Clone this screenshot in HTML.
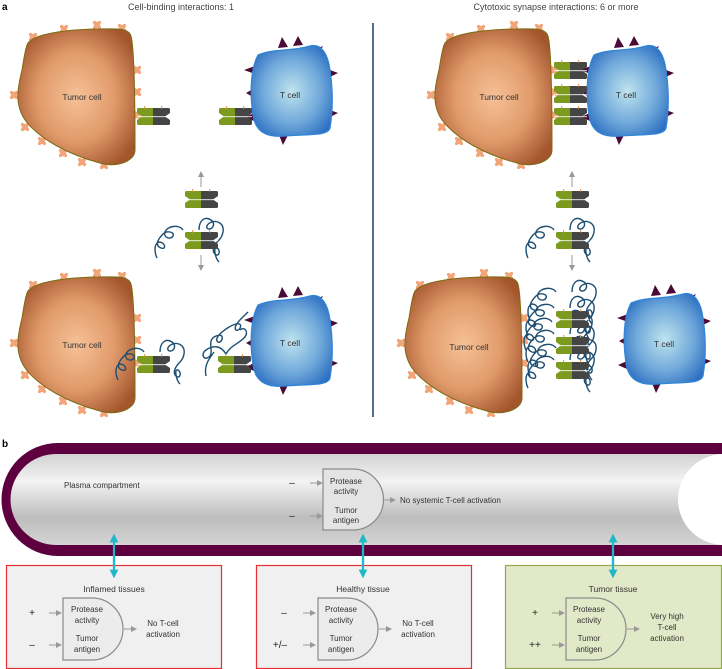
<!DOCTYPE html>
<html><head><meta charset="utf-8"><style>
html,body{margin:0;padding:0;background:#fff;}
svg{display:block;font-family:"Liberation Sans",sans-serif;}
</style></head><body>
<svg width="722" height="669" viewBox="0 0 722 669" xmlns="http://www.w3.org/2000/svg">
<defs>
<radialGradient id="tg" cx="0.5" cy="0.5" r="0.6">
<stop offset="0" stop-color="#f6c196"/><stop offset="0.55" stop-color="#e09a6a"/><stop offset="1" stop-color="#a3552c"/>
</radialGradient>
<radialGradient id="bg" cx="0.5" cy="0.5" r="0.6">
<stop offset="0" stop-color="#bfe3ef"/><stop offset="0.6" stop-color="#6fa8da"/><stop offset="1" stop-color="#2d6fc2"/>
</radialGradient>
<linearGradient id="pg" x1="0" y1="0" x2="0" y2="1">
<stop offset="0" stop-color="#d2d2d2"/><stop offset="0.3" stop-color="#f3f3f3"/><stop offset="0.7" stop-color="#bdbdbd"/><stop offset="1" stop-color="#d4d4d4"/>
</linearGradient>
<g id="bump"><circle r="3.2"/><circle cx="-2.5" cy="-2.5" r="1.6"/><circle cx="2.5" cy="-2.5" r="1.6"/><circle cx="-2.5" cy="2.5" r="1.6"/><circle cx="2.5" cy="2.5" r="1.6"/></g>
<g id="tumor">
<g fill="#f3a57a">
<use href="#bump" x="33" y="37"/><use href="#bump" x="64" y="29"/><use href="#bump" x="97" y="25"/><use href="#bump" x="122" y="28"/>
<use href="#bump" x="137" y="70"/><use href="#bump" x="137" y="92"/><use href="#bump" x="137" y="115"/><use href="#bump" x="14" y="95"/>
<use href="#bump" x="25" y="127"/><use href="#bump" x="42" y="141"/><use href="#bump" x="63" y="153"/><use href="#bump" x="82" y="162"/>
<use href="#bump" x="104" y="165"/><use href="#bump" x="128" y="153"/>
</g>
<path d="M27 45 C30 35 60 30 95 29 C115 29 128 27 131 36 C135 50 135 120 135 150 C135 162 115 168 100 163 C70 155 40 140 25 120 C15 105 17 90 22 70 C24 58 25 50 27 45 Z" fill="url(#tg)" stroke="#7d6b12" stroke-width="1"/>
</g>
<g id="tcell">
<g fill="#4a0a35">
<polygon points="278,48 282,37 288,47"/><polygon points="293,46 298,36 303,45"/><polygon points="314,50 323,46 318,55"/>
<polygon points="330,70 338,73 330,77"/><polygon points="330,110 338,113 330,117"/><polygon points="320,127 328,131 322,134"/>
<polygon points="279,135 283,145 288,135"/><polygon points="255,66 244,70 255,74"/><polygon points="253,89 246,93 253,97"/><polygon points="254,113 245,117 254,121"/>
</g>
<path d="M258 55 C275 48 290 52 310 46 C322 43 328 55 330 70 C333 90 333 110 330 128 C328 136 310 134 285 136 C265 138 255 130 253 115 C250 95 250 70 258 55 Z" fill="url(#bg)" stroke="#2f85d8" stroke-width="1.2"/>
</g>
<g id="mol">
<path d="M1.5 0 H16 V17 H1.5 Q0 17 0 15.5 V12 L5 8.5 L0 5 V1.5 Q0 0 1.5 0 Z" fill="#7b9a1e"/>
<path d="M16 0 H31.5 Q33 0 33 1.5 V5 L28 8.5 L33 12 V15.5 Q33 17 31.5 17 H16 Z" fill="#454545"/>
<rect x="0" y="8" width="33" height="1.2" fill="#fff" opacity="0.7"/>
<rect x="7" y="-2" width="1.2" height="2.5" fill="#e8a060"/><rect x="24" y="-2" width="1.2" height="2.5" fill="#e8a060"/>
</g>
<g id="coils" fill="none" stroke="#1c4e72" stroke-width="1.4">
<path d="M8 0 C4 -6 -8 -4 -10 2 C-12 8 -4 10 -2 6 C0 2 -8 0 -12 4 C-18 10 -20 16 -14 18 C-8 20 -10 12 -16 12 C-22 14 -20 24 -18 28"/>
<path d="M24 0 C24 -10 30 -14 36 -10 C42 -6 36 2 32 -2 C30 -6 40 -12 46 -6 C50 -2 48 6 44 10 C40 14 36 20 40 24 C44 28 46 20 42 18 C38 16 40 28 44 32"/>
</g>
<marker id="ga" markerWidth="6" markerHeight="6" refX="3" refY="3" orient="auto"><path d="M0 0 L6 3 L0 6 Z" fill="#999"/></marker>
<marker id="ca" markerWidth="4" markerHeight="4" refX="2" refY="2" orient="auto-start-reverse"><path d="M0 0 L4 2 L0 4 Z" fill="#1fb8c8"/></marker>
</defs>

<!-- PART A -->
<text x="2" y="10" font-size="10" font-weight="bold" fill="#000">a</text>
<text x="181" y="10" font-size="9" fill="#444" text-anchor="middle">Cell-binding interactions: 1</text>
<text x="556" y="10" font-size="9" fill="#444" text-anchor="middle">Cytotoxic synapse interactions: 6 or more</text>
<line x1="373" y1="23" x2="373" y2="417" stroke="#1f3a6e" stroke-width="1.5"/>

<use href="#tumor"/>
<text x="82" y="100" font-size="8.5" fill="#333" text-anchor="middle">Tumor cell</text>
<use href="#tcell"/>
<text x="290" y="98" font-size="8.5" fill="#333" text-anchor="middle">T cell</text>
<use href="#mol" x="137" y="108"/>
<use href="#mol" x="219" y="108"/>

<line x1="201" y1="187" x2="201" y2="174" stroke="#999" stroke-width="1" marker-end="url(#ga)"/>
<use href="#mol" x="185" y="191"/>
<use href="#coils" x="175" y="230"/>
<use href="#mol" x="185" y="232"/>
<line x1="201" y1="255" x2="201" y2="268" stroke="#999" stroke-width="1" marker-end="url(#ga)"/>

<use href="#tumor" y="248"/>
<text x="82" y="348" font-size="8.5" fill="#333" text-anchor="middle">Tumor cell</text>
<use href="#tcell" y="250"/>
<text x="290" y="346" font-size="8.5" fill="#333" text-anchor="middle">T cell</text>
<use href="#coils" x="136" y="352"/>
<use href="#mol" x="137" y="356"/>
<g fill="none" stroke="#1c4e72" stroke-width="1.4">
<path d="M226 354 C220 344 212 346 206 350 C200 354 204 362 210 356 C214 350 206 340 216 336 C226 332 222 344 218 342 C212 338 228 326 236 324 C244 322 240 332 236 330 C232 326 244 316 248 312 M226 354 C230 346 238 344 244 338 C250 332 244 326 240 330 M214 352 C208 360 204 366 206 376"/>
</g>
<use href="#mol" x="218" y="356"/>

<use href="#tumor" x="417"/>
<text x="499" y="100" font-size="8.5" fill="#333" text-anchor="middle">Tumor cell</text>
<use href="#tcell" x="336"/>
<text x="626" y="98" font-size="8.5" fill="#333" text-anchor="middle">T cell</text>
<use href="#mol" x="554" y="62"/>
<use href="#mol" x="554" y="86"/>
<use href="#mol" x="554" y="108"/>

<line x1="572" y1="187" x2="572" y2="174" stroke="#999" stroke-width="1" marker-end="url(#ga)"/>
<use href="#mol" x="556" y="191"/>
<use href="#coils" x="546" y="230"/>
<use href="#mol" x="556" y="232"/>
<line x1="572" y1="255" x2="572" y2="268" stroke="#999" stroke-width="1" marker-end="url(#ga)"/>

<use href="#tumor" x="387" y="248"/>
<text x="469" y="350" font-size="8.5" fill="#333" text-anchor="middle">Tumor cell</text>
<use href="#tcell" x="373" y="248"/>
<text x="664" y="347" font-size="8.5" fill="#333" text-anchor="middle">T cell</text>
<use href="#coils" x="546" y="308"/>
<use href="#coils" x="546" y="334"/>
<use href="#coils" x="546" y="360"/>
<use href="#coils" x="548" y="292"/>
<use href="#coils" x="544" y="322"/>
<use href="#coils" x="548" y="348"/>
<use href="#mol" x="556" y="311"/>
<use href="#mol" x="556" y="337"/>
<use href="#mol" x="556" y="362"/>

<!-- PART B -->
<text x="2" y="447" font-size="10" font-weight="bold" fill="#000">b</text>
<path d="M722 443 H58 A56.5 56.5 0 0 0 58 556 H722 Z" fill="#5e0040"/>
<path d="M722 454 H56 A45.5 45.5 0 0 0 56 545 H722 Z" fill="url(#pg)"/>
<ellipse cx="724" cy="499.5" rx="46" ry="45.5" fill="#fff"/>
<text x="64" y="488" font-size="8" fill="#333">Plasma compartment</text>

<g font-size="8" fill="#333" text-anchor="middle">
<text x="292" y="486" font-size="10" fill="#222">–</text>
<text x="292" y="519" font-size="10" fill="#222">–</text>
<line x1="310" y1="483" x2="320" y2="483" stroke="#999" marker-end="url(#ga)"/>
<line x1="310" y1="516" x2="320" y2="516" stroke="#999" marker-end="url(#ga)"/>
<path d="M323 469 H353 A30.5 30.5 0 0 1 353 530 H323 Z" fill="#e4e4e4" stroke="#8a8a8a" stroke-width="1.2"/>
<text x="346" y="484">Protease</text><text x="346" y="494">activity</text>
<text x="346" y="513">Tumor</text><text x="346" y="523">antigen</text>
<line x1="384" y1="500" x2="393" y2="500" stroke="#999" marker-end="url(#ga)"/>
<text x="400" y="503" text-anchor="start">No systemic T-cell activation</text>
</g>

<g stroke="#1fb8c8" stroke-width="2.2" marker-start="url(#ca)" marker-end="url(#ca)">
<line x1="114" y1="538" x2="114" y2="572"/>
<line x1="363" y1="538" x2="363" y2="572"/>
<line x1="613" y1="538" x2="613" y2="572"/>
</g>

<rect x="6.5" y="565.5" width="215" height="103" fill="#f0f0f0" stroke="#e53030" stroke-width="1.2"/>
<rect x="256.5" y="565.5" width="215" height="103" fill="#f0f0f0" stroke="#e53030" stroke-width="1.2"/>
<rect x="505.5" y="565.5" width="216" height="103" fill="#e2e9c8" stroke="#93a84a" stroke-width="1.2"/>
<g stroke="#1fb8c8" stroke-width="2.2" marker-end="url(#ca)">
<line x1="114" y1="555" x2="114" y2="574"/><line x1="363" y1="555" x2="363" y2="574"/><line x1="613" y1="555" x2="613" y2="574"/>
</g>

<g font-size="8" fill="#333" text-anchor="middle">
<text x="114" y="592" font-size="8.5">Inflamed tissues</text>
<text x="32" y="616" font-size="10" fill="#222">+</text>
<text x="32" y="648" font-size="10" fill="#222">–</text>
<line x1="49" y1="613" x2="59" y2="613" stroke="#999" marker-end="url(#ga)"/>
<line x1="49" y1="645" x2="59" y2="645" stroke="#999" marker-end="url(#ga)"/>
<path d="M63 598 H92 A31 31 0 0 1 92 660 H63 Z" fill="#ececec" stroke="#8a8a8a" stroke-width="1.2"/>
<text x="87" y="612">Protease</text><text x="87" y="623">activity</text>
<text x="87" y="641">Tumor</text><text x="87" y="652">antigen</text>
<line x1="124" y1="629" x2="134" y2="629" stroke="#999" marker-end="url(#ga)"/>
<text x="163" y="626">No T-cell</text><text x="163" y="637">activation</text>

<text x="363" y="592" font-size="8.5">Healthy tissue</text>
<text x="284" y="616" font-size="10" fill="#222">–</text>
<text x="280" y="648" font-size="10" fill="#222">+/–</text>
<line x1="303" y1="613" x2="313" y2="613" stroke="#999" marker-end="url(#ga)"/>
<line x1="303" y1="645" x2="313" y2="645" stroke="#999" marker-end="url(#ga)"/>
<path d="M318 598 H347 A31 31 0 0 1 347 660 H318 Z" fill="#ececec" stroke="#8a8a8a" stroke-width="1.2"/>
<text x="341" y="612">Protease</text><text x="341" y="623">activity</text>
<text x="341" y="641">Tumor</text><text x="341" y="652">antigen</text>
<line x1="379" y1="629" x2="389" y2="629" stroke="#999" marker-end="url(#ga)"/>
<text x="418" y="626">No T-cell</text><text x="418" y="637">activation</text>

<text x="613" y="592" font-size="8.5">Tumor tissue</text>
<text x="535" y="616" font-size="10" fill="#222">+</text>
<text x="535" y="648" font-size="10" fill="#222">++</text>
<line x1="552" y1="613" x2="562" y2="613" stroke="#999" marker-end="url(#ga)"/>
<line x1="552" y1="645" x2="562" y2="645" stroke="#999" marker-end="url(#ga)"/>
<path d="M566 598 H595 A31 31 0 0 1 595 660 H566 Z" fill="#e2e9c8" stroke="#8a8a8a" stroke-width="1.2"/>
<text x="589" y="612">Protease</text><text x="589" y="623">activity</text>
<text x="589" y="641">Tumor</text><text x="589" y="652">antigen</text>
<line x1="627" y1="629" x2="637" y2="629" stroke="#999" marker-end="url(#ga)"/>
<text x="667" y="619">Very high</text><text x="667" y="630">T-cell</text><text x="667" y="641">activation</text>
</g>
</svg>
</body></html>
